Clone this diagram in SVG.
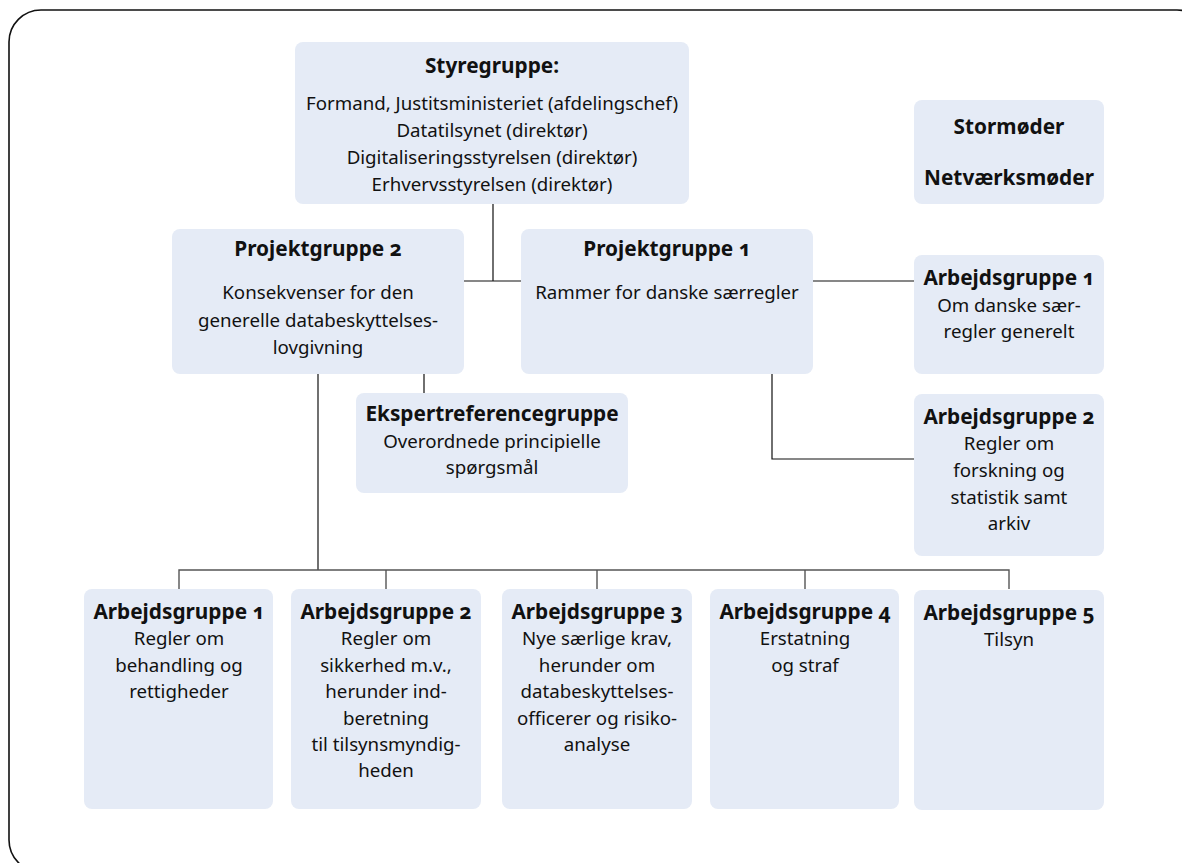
<svg xmlns="http://www.w3.org/2000/svg" width="1182" height="863" viewBox="0 0 1182 863">
<style>
.box{fill:#E5EBF6}
.frame{fill:none;stroke:#111;stroke-width:1.6}
.ln{fill:none;stroke:#111;stroke-width:1.2}
.bus{fill:none;stroke:#555;stroke-width:1.4}
text{font-family:"Noto Sans","Open Sans",sans-serif;fill:#111;text-anchor:middle;font-variant-numeric:oldstyle-nums}
.t{font-weight:bold;font-size:20.8px}
.b{font-size:18.7px}
</style>
<rect class="frame" x="9" y="10" width="1200" height="862" rx="32"/>
<g id="connectors">
<path class="ln" d="M493 204V281M464 281H521M813 281H914M772 374V459H914M424 374V393"/>
<path class="ln" d="M318 374V570"/>
<path class="bus" d="M179 589V570H1009V589M386 570V589M597 570V589M805 570V589"/>
</g>
<g id="styregruppe">
<rect class="box" x="295" y="42" width="394" height="162" rx="8"/>
<text class="t" x="492" y="73">Styregruppe:</text>
<text class="b" x="492" y="110">Formand, Justitsministeriet (afdelingschef)</text>
<text class="b" x="492" y="137">Datatilsynet (direktør)</text>
<text class="b" x="492" y="164">Digitaliseringsstyrelsen (direktør)</text>
<text class="b" x="492" y="191">Erhvervsstyrelsen (direktør)</text>
</g>
<g id="moeder">
<rect class="box" x="914" y="100" width="190" height="104" rx="8"/>
<text class="t" x="1009" y="134">Stormøder</text>
<text class="t" x="1009" y="185">Netværksmøder</text>
</g>
<g id="projektgruppe2">
<rect class="box" x="172" y="229" width="292" height="145" rx="8"/>
<text class="t" x="318" y="256">Projektgruppe 2</text>
<text class="b" x="318" y="299">Konsekvenser for den</text>
<text class="b" x="318" y="327">generelle databeskyttelses-</text>
<text class="b" x="318" y="354">lovgivning</text>
</g>
<g id="projektgruppe1">
<rect class="box" x="521" y="229" width="292" height="145" rx="8"/>
<text class="t" x="667" y="256">Projektgruppe 1</text>
<text class="b" x="667" y="299">Rammer for danske særregler</text>
</g>
<g id="ekspert">
<rect class="box" x="356" y="393" width="272" height="100" rx="8"/>
<text class="t" x="492" y="421">Ekspertreferencegruppe</text>
<text class="b" x="492" y="448">Overordnede principielle</text>
<text class="b" x="492" y="474">spørgsmål</text>
</g>
<g id="pg1-ag1">
<rect class="box" x="914" y="255" width="190" height="119" rx="8"/>
<text class="t" x="1009" y="285">Arbejdsgruppe 1</text>
<text class="b" x="1009" y="312">Om danske sær-</text>
<text class="b" x="1009" y="338">regler generelt</text>
</g>
<g id="pg1-ag2">
<rect class="box" x="914" y="394" width="190" height="162" rx="8"/>
<text class="t" x="1009" y="424">Arbejdsgruppe 2</text>
<text class="b" x="1009" y="450">Regler om</text>
<text class="b" x="1009" y="477">forskning og</text>
<text class="b" x="1009" y="504">statistik samt</text>
<text class="b" x="1009" y="530">arkiv</text>
</g>
<g id="pg2-ag1">
<rect class="box" x="84" y="589" width="189" height="220" rx="8"/>
<text class="t" x="179" y="619">Arbejdsgruppe 1</text>
<text class="b" x="179" y="645">Regler om</text>
<text class="b" x="179" y="672">behandling og</text>
<text class="b" x="179" y="698">rettigheder</text>
</g>
<g id="pg2-ag2">
<rect class="box" x="291" y="589" width="190" height="220" rx="8"/>
<text class="t" x="386" y="619">Arbejdsgruppe 2</text>
<text class="b" x="386" y="645">Regler om</text>
<text class="b" x="386" y="672">sikkerhed m.v.,</text>
<text class="b" x="386" y="698">herunder ind-</text>
<text class="b" x="386" y="725">beretning</text>
<text class="b" x="386" y="751">til tilsynsmyndig-</text>
<text class="b" x="386" y="777">heden</text>
</g>
<g id="pg2-ag3">
<rect class="box" x="502" y="589" width="190" height="220" rx="8"/>
<text class="t" x="597" y="619">Arbejdsgruppe 3</text>
<text class="b" x="597" y="645">Nye særlige krav,</text>
<text class="b" x="597" y="672">herunder om</text>
<text class="b" x="597" y="698">databeskyttelses-</text>
<text class="b" x="597" y="725">officerer og risiko-</text>
<text class="b" x="597" y="751">analyse</text>
</g>
<g id="pg2-ag4">
<rect class="box" x="710" y="589" width="189" height="220" rx="8"/>
<text class="t" x="805" y="619">Arbejdsgruppe 4</text>
<text class="b" x="805" y="645">Erstatning</text>
<text class="b" x="805" y="672">og straf</text>
</g>
<g id="pg2-ag5">
<rect class="box" x="914" y="590" width="190" height="220" rx="8"/>
<text class="t" x="1009" y="620">Arbejdsgruppe 5</text>
<text class="b" x="1009" y="646">Tilsyn</text>
</g>
</svg>
